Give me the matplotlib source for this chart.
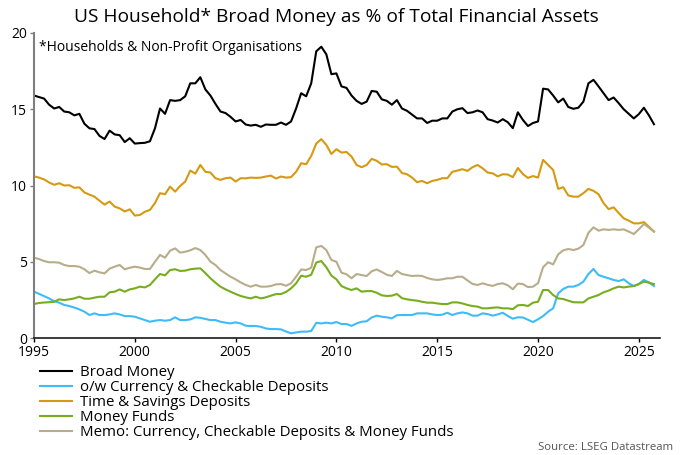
import numpy as np
import matplotlib
matplotlib.use("Agg")
import matplotlib.pyplot as plt

plt.rcParams['font.family'] = ['Open Sans', 'DejaVu Sans']

# quarterly observations, first point at 1995.0, last at 2025.75
start_year = 1995.0
step = 0.25

broad_money = [
    15.9, 15.8, 15.7, 15.3, 15.05, 15.15, 14.85, 14.8, 14.6, 14.7,
    14.05, 13.75, 13.7, 13.25, 13.05, 13.6, 13.35, 13.3, 12.85, 13.1,
    12.75, 12.78, 12.8, 12.9, 13.75, 15.05, 14.7, 15.6, 15.55, 15.6,
    15.85, 16.7, 16.7, 17.1, 16.3, 15.9, 15.35, 14.85, 14.75, 14.5,
    14.2, 14.3, 14.0, 13.93, 13.98, 13.85, 14.0, 13.98, 13.98, 14.13,
    13.98, 14.2, 15.05, 16.05, 15.85, 16.7, 18.8, 19.1, 18.6, 17.3,
    17.35, 16.5, 16.4, 15.9, 15.55, 15.35, 15.5, 16.2, 16.15, 15.65,
    15.55, 15.3, 15.6, 15.05, 14.9, 14.65, 14.4, 14.4, 14.1, 14.25,
    14.25, 14.4, 14.4, 14.85, 15.0, 15.07, 14.75, 14.8, 14.92, 14.8,
    14.35, 14.26, 14.13, 14.35, 14.15, 13.76, 14.8, 14.3, 13.9, 14.1,
    14.2, 16.35, 16.3, 15.9, 15.45, 15.7, 15.15, 15.03, 15.1, 15.5,
    16.7, 16.93, 16.5, 16.05, 15.6, 15.77, 15.4, 15.0, 14.7, 14.4,
    14.68, 15.1, 14.6, 14.02,
]

currency_checkable = [
    3.04, 2.9, 2.75, 2.6, 2.42, 2.32, 2.17, 2.1, 2.0, 1.88,
    1.73, 1.51, 1.62, 1.51, 1.51, 1.55, 1.62, 1.55, 1.44, 1.44,
    1.4, 1.29, 1.18, 1.07, 1.14, 1.18, 1.14, 1.18, 1.36, 1.18,
    1.18, 1.22, 1.36, 1.33, 1.25, 1.18, 1.18, 1.07, 1.01, 0.96,
    1.03, 0.96, 0.81, 0.79, 0.79, 0.74, 0.63, 0.59, 0.59, 0.57,
    0.43, 0.31, 0.37, 0.42, 0.42, 0.46, 1.0, 0.96, 1.01, 0.96,
    1.05, 0.92, 0.92, 0.8, 0.96, 1.07, 1.1, 1.35, 1.47, 1.4,
    1.36, 1.29, 1.5, 1.51, 1.51, 1.51, 1.62, 1.62, 1.62, 1.55,
    1.51, 1.53, 1.66, 1.51, 1.62, 1.68, 1.62, 1.47, 1.47, 1.62,
    1.57, 1.47, 1.55, 1.66, 1.45, 1.27, 1.36, 1.35, 1.2, 1.05,
    1.23, 1.44, 1.73, 1.95, 2.93, 3.22, 3.37, 3.37, 3.48, 3.7,
    4.2, 4.53, 4.13, 4.02, 3.92, 3.81, 3.74, 3.85, 3.59, 3.41,
    3.54, 3.81, 3.65, 3.41,
]

time_savings = [
    10.6, 10.52, 10.4, 10.2, 10.05, 10.15, 10.0, 10.02, 9.85, 9.88,
    9.55, 9.4, 9.27, 9.0, 8.75, 8.95, 8.62, 8.5, 8.3, 8.44,
    8.03, 8.07, 8.28, 8.4, 8.85, 9.5, 9.43, 9.93, 9.6, 9.97,
    10.26, 10.98, 10.78, 11.35, 10.9, 10.85, 10.48, 10.37, 10.48, 10.52,
    10.26, 10.48, 10.47, 10.52, 10.5, 10.52, 10.59, 10.65, 10.46, 10.59,
    10.52, 10.55, 10.9, 11.46, 11.4, 11.94, 12.75, 13.04, 12.66, 12.07,
    12.38, 12.16, 12.2, 11.9, 11.35, 11.2, 11.35, 11.75, 11.62, 11.38,
    11.4, 11.22, 11.24, 10.82, 10.74, 10.52, 10.22, 10.3, 10.15, 10.3,
    10.37, 10.48, 10.48, 10.9, 10.98, 11.07, 10.96, 11.2, 11.35, 11.13,
    10.85, 10.8, 10.6, 10.74, 10.72, 10.55, 11.15, 10.75, 10.5, 10.62,
    10.52, 11.68, 11.35, 11.02, 9.78, 9.89, 9.35, 9.27, 9.27, 9.5,
    9.78, 9.65, 9.43, 8.85, 8.45, 8.57, 8.2, 7.85, 7.7, 7.52,
    7.52, 7.6, 7.3, 6.98,
]

money_funds = [
    2.23, 2.3, 2.33, 2.35, 2.38, 2.54, 2.49, 2.54, 2.6, 2.71,
    2.58, 2.58, 2.65, 2.71, 2.71, 3.0, 3.04, 3.19, 3.04, 3.19,
    3.26, 3.37, 3.32, 3.48, 3.85, 4.2, 4.11, 4.46, 4.51, 4.4,
    4.42, 4.51, 4.55, 4.57, 4.26, 3.92, 3.63, 3.37, 3.19, 3.04,
    2.89, 2.76, 2.67, 2.6, 2.71, 2.6, 2.67, 2.78, 2.88, 2.89,
    3.02, 3.26, 3.59, 4.09, 4.02, 4.15, 4.95, 5.05, 4.64, 4.1,
    3.85, 3.41, 3.26, 3.15, 3.26, 3.04, 3.08, 3.08, 2.97, 2.8,
    2.76, 2.78, 2.89, 2.62, 2.54, 2.49, 2.45, 2.38, 2.32, 2.32,
    2.27, 2.23, 2.23, 2.34, 2.34, 2.27, 2.17, 2.1, 2.06, 1.95,
    1.95, 1.99, 2.01, 1.95, 1.95, 1.9, 2.15, 2.17, 2.1, 2.32,
    2.38, 3.15, 3.15, 2.82, 2.6, 2.56, 2.45, 2.35, 2.34, 2.34,
    2.6, 2.71, 2.82, 3.0, 3.11, 3.26, 3.37, 3.32, 3.37, 3.41,
    3.54, 3.7, 3.63, 3.54,
]

memo_total = [
    5.27, 5.18, 5.05, 4.97, 4.97, 4.94, 4.79, 4.72, 4.72, 4.68,
    4.51, 4.26, 4.42, 4.31, 4.24, 4.55, 4.68, 4.79, 4.51, 4.61,
    4.68, 4.62, 4.53, 4.53, 5.0, 5.45, 5.27, 5.73, 5.88, 5.6,
    5.66, 5.75, 5.9, 5.77, 5.45, 5.01, 4.79, 4.46, 4.24, 4.02,
    3.85, 3.65, 3.48, 3.37, 3.48, 3.37, 3.37, 3.41, 3.52, 3.54,
    3.43, 3.59, 4.02, 4.5, 4.46, 4.61, 5.95, 6.04, 5.77, 5.12,
    5.0, 4.29, 4.18, 3.92, 4.2, 4.13, 4.07, 4.38, 4.5, 4.33,
    4.15, 4.07, 4.4, 4.2, 4.13, 4.07, 4.09, 4.07, 3.94, 3.85,
    3.81, 3.85, 3.92, 3.92, 4.02, 4.02, 3.78, 3.55, 3.48, 3.59,
    3.49, 3.42, 3.54, 3.59, 3.46, 3.2, 3.57, 3.54, 3.34, 3.37,
    3.6, 4.64, 4.97, 4.83, 5.49, 5.75, 5.84, 5.77, 5.86, 6.1,
    6.9, 7.26, 7.04, 7.13, 7.09, 7.13, 7.09, 7.13, 6.98, 6.82,
    7.13, 7.48, 7.24, 6.98,
]

series_labels = [
    "Broad Money",
    "o/w Currency & Checkable Deposits",
    "Time & Savings Deposits",
    "Money Funds",
    "Memo: Currency, Checkable Deposits & Money Funds",
]
series_colors = ["#000000", "#3dbcf7", "#d69a12", "#78ad1f", "#b8ad8a"]
series_values = [broad_money, currency_checkable, time_savings, money_funds, memo_total]

x_ticks = [1995, 2000, 2005, 2010, 2015, 2020, 2025]
y_ticks = [0, 5, 10, 15, 20]

dates = start_year + step * np.arange(len(broad_money))

fig = plt.figure(figsize=(6.8, 4.55), dpi=100)
ax = fig.add_axes([0.05, 0.257, 0.9206, 0.6705])

for values, color, label in zip(series_values, series_colors, series_labels):
    ax.plot(dates, values, color=color, lw=1.5, label=label)

ax.set_xlim(1995, 2026.05)
ax.set_ylim(0, 20)
ax.set_xticks(x_ticks)
ax.set_yticks(y_ticks)
ax.tick_params(axis='both', labelsize=10, length=3, width=1, colors='#000000', pad=2)
ax.tick_params(axis='y', color='#7f7f7f')

for side in ['top', 'right']:
    ax.spines[side].set_visible(False)
ax.spines['left'].set_color('#7f7f7f')
ax.spines['left'].set_linewidth(1.5)
ax.spines['bottom'].set_color('#1a1a1a')
ax.spines['bottom'].set_linewidth(1.2)

ax.text(0.008, 0.954, "*Households & Non-Profit Organisations",
        transform=ax.transAxes, fontsize=10, va='center', ha='left')

fig.text(0.495, 0.962, "US Household* Broad Money as % of Total Financial Assets",
         ha='center', va='center', fontsize=13.8)

fig.legend(loc='upper left', bbox_to_anchor=(0.059, 0.198), frameon=False,
           fontsize=10.8, handlelength=2.1, handletextpad=0.55,
           labelspacing=0.0, borderaxespad=0, borderpad=0)

fig.text(0.99, 0.005, "Source: LSEG Datastream", ha='right', va='bottom',
         fontsize=8.2, color='#555555')

fig.savefig("out.png", dpi=100)
